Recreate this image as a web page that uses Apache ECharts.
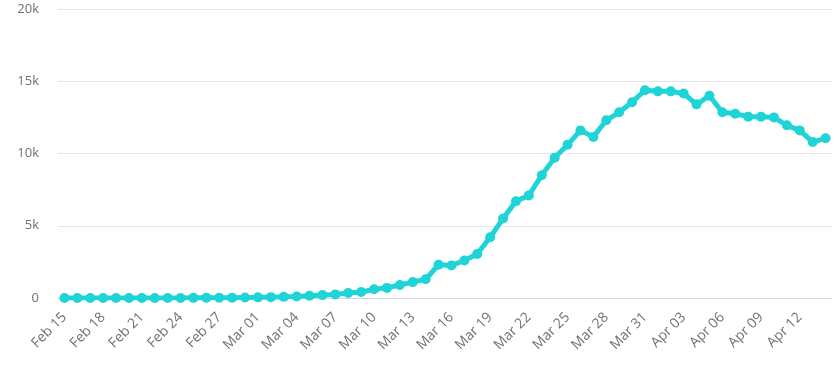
<!DOCTYPE html>
<html>
<head>
<meta charset="utf-8">
<script src="https://cdn.jsdelivr.net/npm/echarts@6/dist/echarts.min.js"></script>
<style>html,body{margin:0;padding:0;background:#fff}#c{width:840px;height:367px}</style>
</head>
<body>
<div id="c"></div>
<script>
const categories = ["Feb 15","Feb 16","Feb 17","Feb 18","Feb 19","Feb 20","Feb 21","Feb 22","Feb 23","Feb 24","Feb 25","Feb 26","Feb 27","Feb 28","Feb 29",
"Mar 01","Mar 02","Mar 03","Mar 04","Mar 05","Mar 06","Mar 07","Mar 08","Mar 09","Mar 10","Mar 11","Mar 12","Mar 13","Mar 14","Mar 15","Mar 16","Mar 17","Mar 18","Mar 19","Mar 20","Mar 21","Mar 22","Mar 23","Mar 24","Mar 25","Mar 26","Mar 27","Mar 28","Mar 29","Mar 30","Mar 31",
"Apr 01","Apr 02","Apr 03","Apr 04","Apr 05","Apr 06","Apr 07","Apr 08","Apr 09","Apr 10","Apr 11","Apr 12","Apr 13","Apr 14"];
const values = [0,0,0,0,0,0,0,0,0,5,10,15,20,25,35,
45,60,80,100,150,200,250,350,420,600,700,900,1100,1300,2300,2250,2600,3050,4200,5500,6700,7100,8500,9700,10600,11600,11150,12300,12850,13550,14380,
14300,14300,14150,13400,14000,12850,12750,12550,12550,12500,11950,11600,10800,11050];
const yTicks = [0,5000,10000,15000,20000];

const chart = echarts.init(document.getElementById('c'));
chart.setOption({
  animation:false,
  grid:{left:58,right:8,top:9,bottom:69},
  xAxis:{type:'category',data:categories,boundaryGap:true,
    axisLine:{lineStyle:{color:'#ccd6eb',width:1}},
    axisTick:{show:false},
    axisLabel:{interval:2,rotate:45,color:'#707070',fontFamily:'Open Sans',fontSize:14,margin:17}},
  yAxis:{type:'value',min:yTicks[0],max:yTicks[yTicks.length-1],interval:5000,
    axisLine:{show:false},axisTick:{show:false},
    splitLine:{lineStyle:{color:'#e6e6e6',width:1}},
    axisLabel:{color:'#707070',fontFamily:'Open Sans',fontSize:13,margin:19,
      formatter:v=>v===0?'0':(v/1000)+'k'}},
  series:[{type:'line',data:values,color:'#1fd4d6',showAllSymbol:true,
    lineStyle:{width:5,color:'#1fd4d6'},symbol:'circle',symbolSize:10,
    itemStyle:{color:'#1fd4d6'}}]
});
</script>
</body>
</html>
